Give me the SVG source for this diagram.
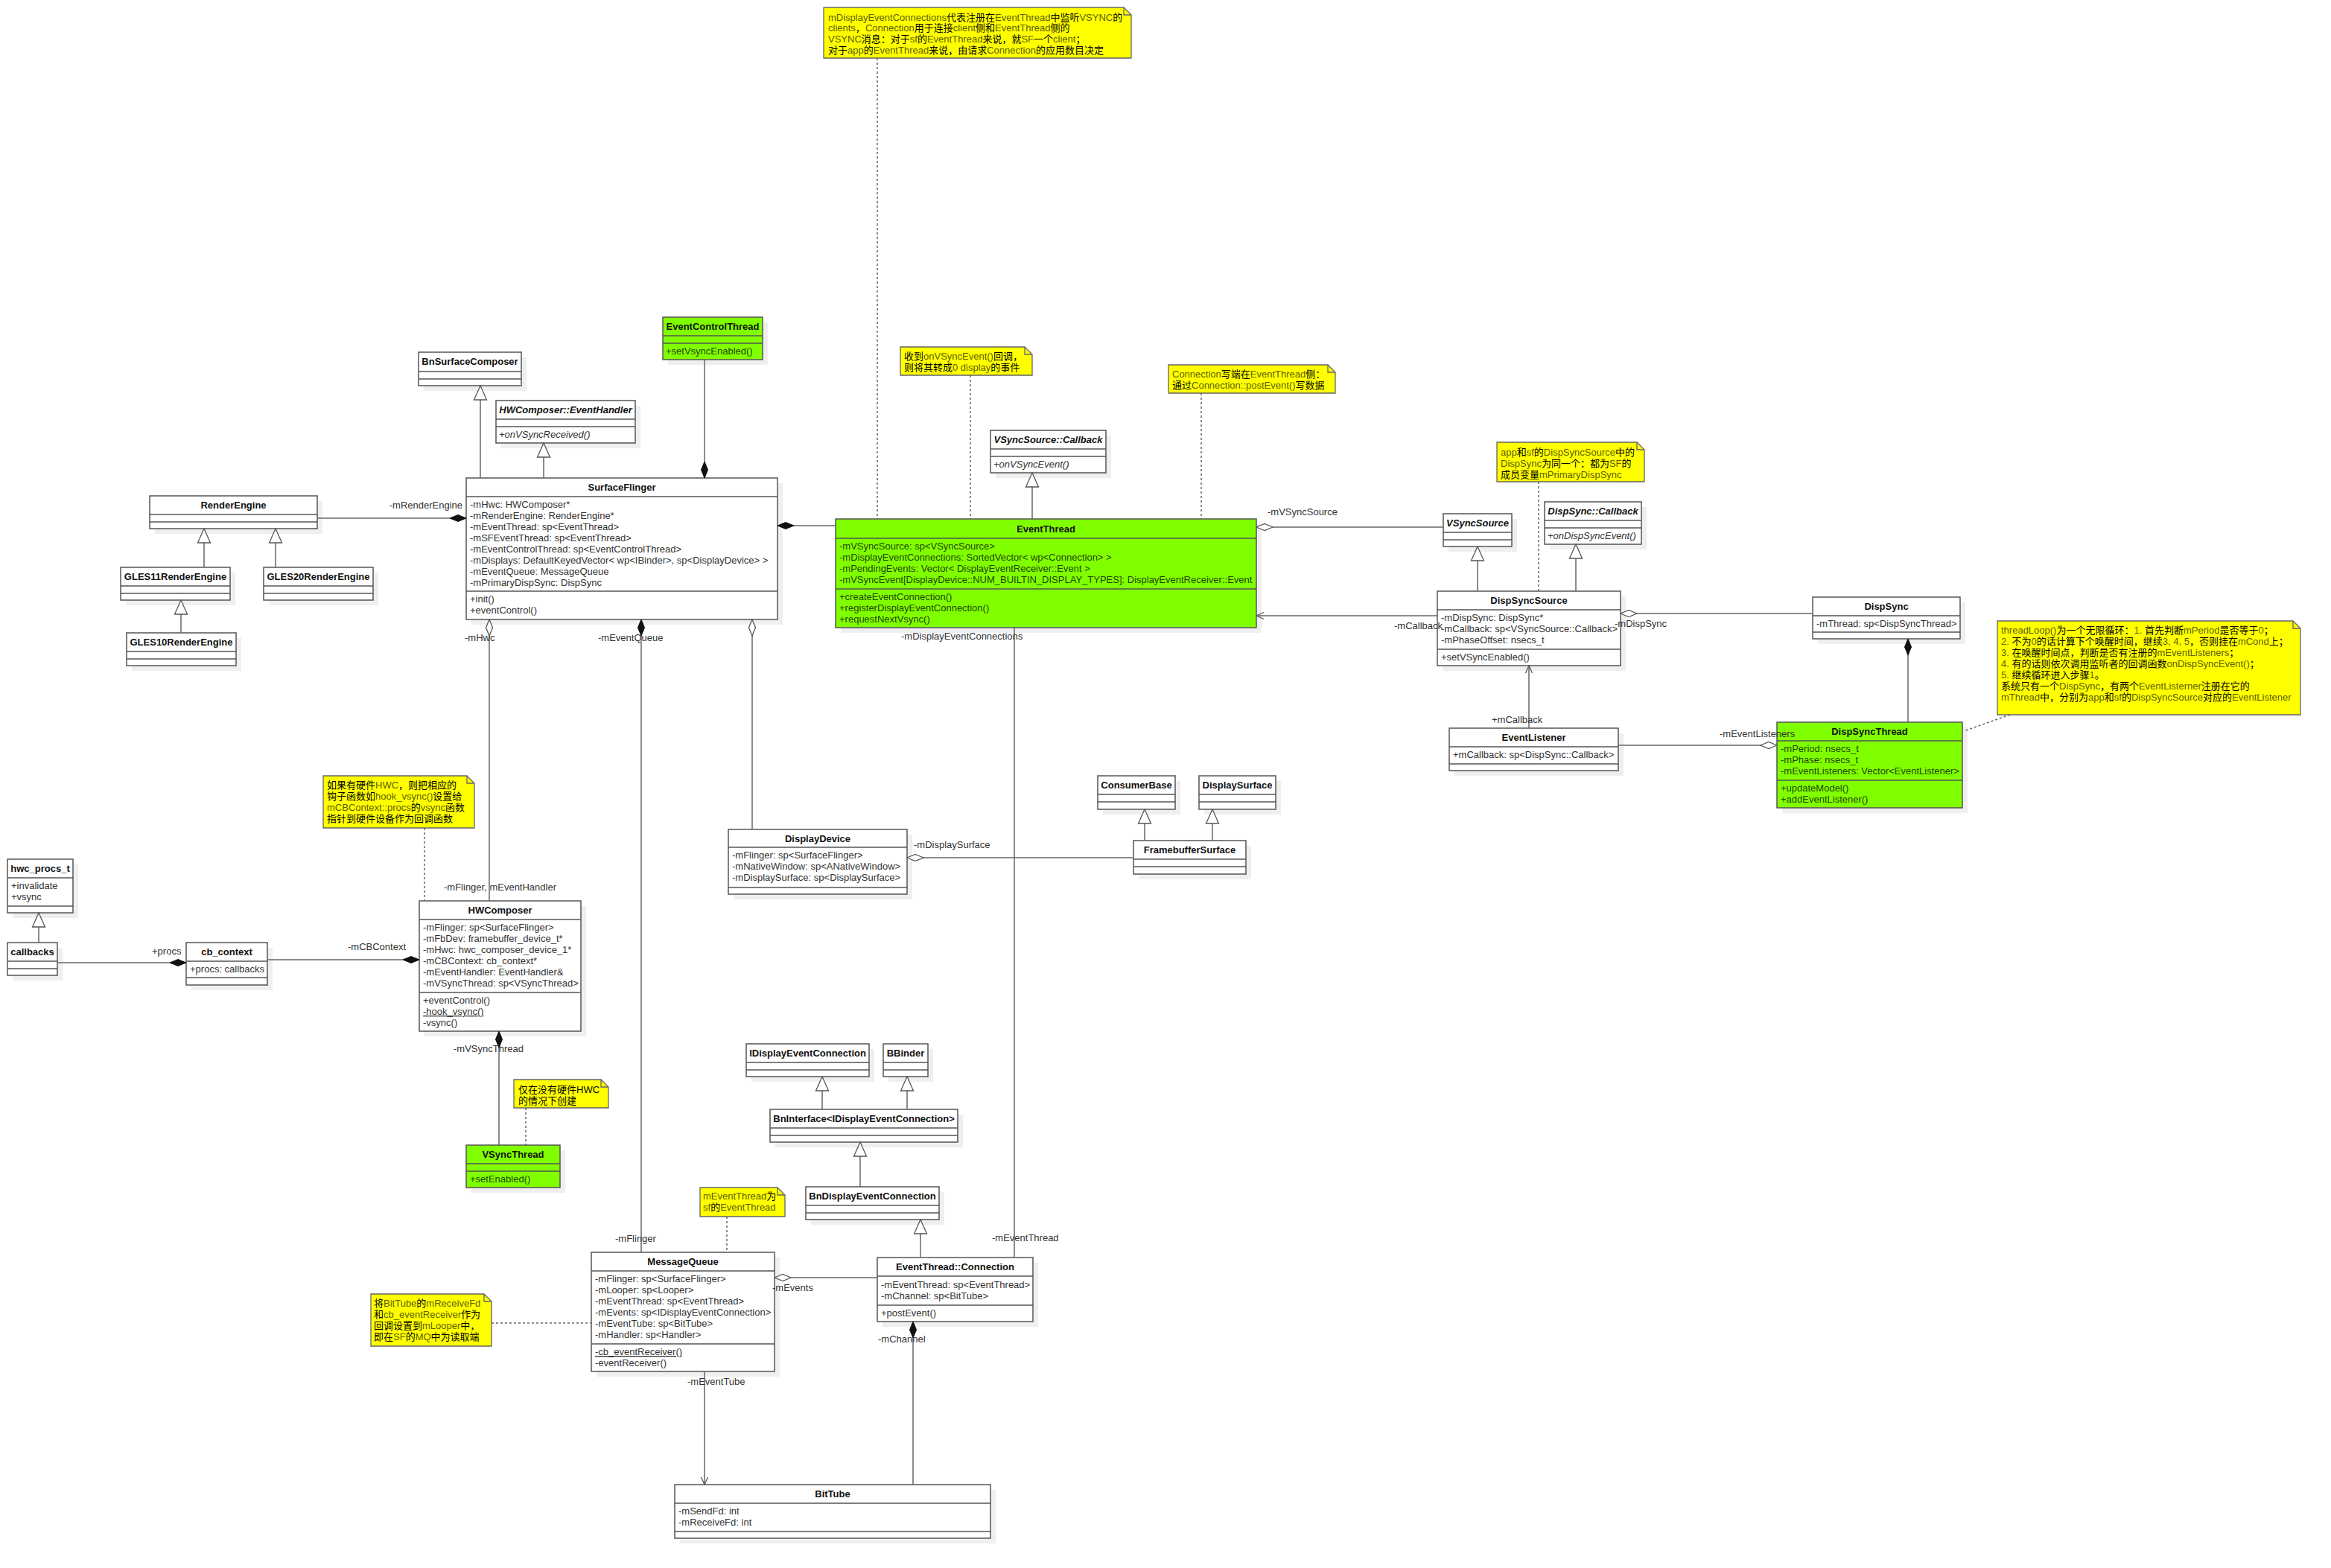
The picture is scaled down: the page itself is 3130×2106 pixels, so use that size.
<svg xmlns="http://www.w3.org/2000/svg" width="3130" height="2106" viewBox="0 0 3130 2106">
<style>
.bg{fill:#fff}
.sh{fill:#efefef}
.box{fill:#fff;stroke:#555;stroke-width:1.5}
.g .box{fill:#80ff00}
.sep{stroke:#555;stroke-width:1.5}
text{font-family:"Liberation Sans","Noto Sans CJK SC",sans-serif;font-size:13px}
.n{font-weight:bold;text-anchor:middle;fill:#111}
.i{font-style:italic}
.m{fill:#333}
.g .m{fill:#234600}
.u{text-decoration:underline}
.lbl{fill:#333}
.note{fill:#ff0;stroke:#666;stroke-width:1.3}
.fold{fill:none;stroke:#666;stroke-width:1.3}
.nt{fill:#000}
.o{fill:#5e5e00}
.ln{fill:none;stroke:#666;stroke-width:1.5}
.ds{fill:none;stroke:#666;stroke-width:1.5;stroke-dasharray:3 3}
</style>
<defs>
<marker id="fd" viewBox="-23 -6 24 12" refX="0" refY="0" markerWidth="24" markerHeight="12" markerUnits="userSpaceOnUse" orient="auto"><path d="M0,0 L-11,-4.5 L-22,0 L-11,4.5 Z" fill="#111" stroke="#111" stroke-width="1"/></marker>
<marker id="hd" viewBox="-23 -6 24 12" refX="0" refY="0" markerWidth="24" markerHeight="12" markerUnits="userSpaceOnUse" orient="auto"><path d="M0,0 L-11,-4.5 L-22,0 L-11,4.5 Z" fill="#fff" stroke="#555" stroke-width="1.3"/></marker>
<marker id="tri" viewBox="-21 -10 22 20" refX="0" refY="0" markerWidth="22" markerHeight="20" markerUnits="userSpaceOnUse" orient="auto"><path d="M0,0 L-19,-8.5 L-19,8.5 Z" fill="#fff" stroke="#555" stroke-width="1.3"/></marker>
<marker id="oa" viewBox="-12 -6 13 12" refX="0" refY="0" markerWidth="13" markerHeight="12" markerUnits="userSpaceOnUse" orient="auto"><path d="M-10,-4.5 L0,0 L-10,4.5" fill="none" stroke="#555" stroke-width="1.3"/></marker>
</defs>
<rect class="bg" x="0" y="0" width="3130" height="2106"/>

<g id="nodes">
<g id="EventControlThread" class="g"><rect class="sh" x="897" y="433" width="134" height="57"/><rect class="box" x="890" y="426" width="134" height="57"/><line class="sep" x1="890" y1="451" x2="1024" y2="451"/><line class="sep" x1="890" y1="461" x2="1024" y2="461"/><text class="n" x="957" y="443">EventControlThread</text><text class="m" x="894" y="476">+setVsyncEnabled()</text></g>

<g id="BnSurfaceComposer"><rect class="sh" x="569" y="480" width="138" height="45"/><rect class="box" x="562" y="473" width="138" height="45"/><line class="sep" x1="562" y1="499" x2="700" y2="499"/><line class="sep" x1="562" y1="509" x2="700" y2="509"/><text class="n" x="631" y="490">BnSurfaceComposer</text></g>

<g id="HWComposerEventHandler"><rect class="sh" x="673" y="545" width="187" height="57"/><rect class="box" x="666" y="538" width="187" height="57"/><line class="sep" x1="666" y1="563" x2="853" y2="563"/><line class="sep" x1="666" y1="573" x2="853" y2="573"/><text class="n i" x="759.5" y="555">HWComposer::EventHandler</text><text class="m i" x="670" y="588">+onVSyncReceived()</text></g>

<g id="SurfaceFlinger"><rect class="sh" x="633" y="649" width="418" height="190"/><rect class="box" x="626" y="642" width="418" height="190"/><line class="sep" x1="626" y1="667" x2="1044" y2="667"/><line class="sep" x1="626" y1="794" x2="1044" y2="794"/><text class="n" x="835" y="659">SurfaceFlinger</text>
<text class="m" x="631" y="682">-mHwc: HWComposer*</text>
<text class="m" x="631" y="697">-mRenderEngine: RenderEngine*</text>
<text class="m" x="631" y="712">-mEventThread: sp&lt;EventThread&gt;</text>
<text class="m" x="631" y="727">-mSFEventThread: sp&lt;EventThread&gt;</text>
<text class="m" x="631" y="742">-mEventControlThread: sp&lt;EventControlThread&gt;</text>
<text class="m" x="631" y="757">-mDisplays: DefaultKeyedVector&lt; wp&lt;IBinder&gt;, sp&lt;DisplayDevice&gt; &gt;</text>
<text class="m" x="631" y="772">-mEventQueue: MessageQueue</text>
<text class="m" x="631" y="787">-mPrimaryDispSync: DispSync</text>
<text class="m" x="631" y="809">+init()</text>
<text class="m" x="631" y="824">+eventControl()</text></g>

<g id="RenderEngine"><rect class="sh" x="208" y="673" width="225" height="44"/><rect class="box" x="201" y="666" width="225" height="44"/><line class="sep" x1="201" y1="691" x2="426" y2="691"/><line class="sep" x1="201" y1="701" x2="426" y2="701"/><text class="n" x="313.5" y="683">RenderEngine</text></g>

<g id="GLES11RenderEngine"><rect class="sh" x="169" y="769" width="147" height="44"/><rect class="box" x="162" y="762" width="147" height="44"/><line class="sep" x1="162" y1="787" x2="309" y2="787"/><line class="sep" x1="162" y1="797" x2="309" y2="797"/><text class="n" x="235.5" y="779">GLES11RenderEngine</text></g>

<g id="GLES20RenderEngine"><rect class="sh" x="361" y="769" width="147" height="44"/><rect class="box" x="354" y="762" width="147" height="44"/><line class="sep" x1="354" y1="787" x2="501" y2="787"/><line class="sep" x1="354" y1="797" x2="501" y2="797"/><text class="n" x="427.5" y="779">GLES20RenderEngine</text></g>

<g id="GLES10RenderEngine"><rect class="sh" x="177" y="857" width="147" height="44"/><rect class="box" x="170" y="850" width="147" height="44"/><line class="sep" x1="170" y1="875" x2="317" y2="875"/><line class="sep" x1="170" y1="885" x2="317" y2="885"/><text class="n" x="243.5" y="867">GLES10RenderEngine</text></g>

<g id="VSyncSourceCallback"><rect class="sh" x="1337" y="585" width="155" height="57"/><rect class="box" x="1330" y="578" width="155" height="57"/><line class="sep" x1="1330" y1="603" x2="1485" y2="603"/><line class="sep" x1="1330" y1="613" x2="1485" y2="613"/><text class="n i" x="1407.5" y="595">VSyncSource::Callback</text><text class="m i" x="1334" y="628">+onVSyncEvent()</text></g>

<g id="EventThread" class="g"><rect class="sh" x="1129" y="704" width="565" height="146"/><rect class="box" x="1122" y="697" width="565" height="146"/><line class="sep" x1="1122" y1="723" x2="1687" y2="723"/><line class="sep" x1="1122" y1="791" x2="1687" y2="791"/><text class="n" x="1404.5" y="715">EventThread</text>
<text class="m" x="1127" y="738">-mVSyncSource: sp&lt;VSyncSource&gt;</text>
<text class="m" x="1127" y="753">-mDisplayEventConnections: SortedVector&lt; wp&lt;Connection&gt; &gt;</text>
<text class="m" x="1127" y="768">-mPendingEvents: Vector&lt; DisplayEventReceiver::Event &gt;</text>
<text class="m" x="1127" y="783">-mVSyncEvent[DisplayDevice::NUM_BUILTIN_DISPLAY_TYPES]: DisplayEventReceiver::Event</text>
<text class="m" x="1127" y="806">+createEventConnection()</text>
<text class="m" x="1127" y="821">+registerDisplayEventConnection()</text>
<text class="m" x="1127" y="836">+requestNextVsync()</text></g>

<g id="VSyncSource"><rect class="sh" x="1945" y="697" width="92" height="44"/><rect class="box" x="1938" y="690" width="92" height="44"/><line class="sep" x1="1938" y1="715" x2="2030" y2="715"/><line class="sep" x1="1938" y1="725" x2="2030" y2="725"/><text class="n i" x="1984" y="707">VSyncSource</text></g>

<g id="DispSyncCallback"><rect class="sh" x="2081" y="681" width="130" height="57"/><rect class="box" x="2074" y="674" width="130" height="57"/><line class="sep" x1="2074" y1="699" x2="2204" y2="699"/><line class="sep" x1="2074" y1="709" x2="2204" y2="709"/><text class="n i" x="2139" y="691">DispSync::Callback</text><text class="m i" x="2078" y="724">+onDispSyncEvent()</text></g>

<g id="DispSyncSource"><rect class="sh" x="1937" y="801" width="246" height="100"/><rect class="box" x="1930" y="794" width="246" height="100"/><line class="sep" x1="1930" y1="819" x2="2176" y2="819"/><line class="sep" x1="1930" y1="872" x2="2176" y2="872"/><text class="n" x="2053" y="811">DispSyncSource</text>
<text class="m" x="1935" y="834">-mDispSync: DispSync*</text>
<text class="m" x="1935" y="849">-mCallback: sp&lt;VSyncSource::Callback&gt;</text>
<text class="m" x="1935" y="864">-mPhaseOffset: nsecs_t</text>
<text class="m" x="1935" y="887">+setVSyncEnabled()</text></g>

<g id="DispSync"><rect class="sh" x="2441" y="809" width="198" height="56"/><rect class="box" x="2434" y="802" width="198" height="56"/><line class="sep" x1="2434" y1="827" x2="2632" y2="827"/><line class="sep" x1="2434" y1="849" x2="2632" y2="849"/><text class="n" x="2533" y="819">DispSync</text><text class="m" x="2439" y="842">-mThread: sp&lt;DispSyncThread&gt;</text></g>

<g id="EventListener"><rect class="sh" x="1953" y="985" width="227" height="57"/><rect class="box" x="1946" y="978" width="227" height="57"/><line class="sep" x1="1946" y1="1003" x2="2173" y2="1003"/><line class="sep" x1="1946" y1="1026" x2="2173" y2="1026"/><text class="n" x="2059.5" y="995">EventListener</text><text class="m" x="1951" y="1018">+mCallback: sp&lt;DispSync::Callback&gt;</text></g>

<g id="DispSyncThread" class="g"><rect class="sh" x="2393" y="977" width="249" height="115"/><rect class="box" x="2386" y="970" width="249" height="115"/><line class="sep" x1="2386" y1="995" x2="2635" y2="995"/><line class="sep" x1="2386" y1="1048" x2="2635" y2="1048"/><text class="n" x="2510.5" y="987">DispSyncThread</text>
<text class="m" x="2391" y="1010">-mPeriod: nsecs_t</text>
<text class="m" x="2391" y="1025">-mPhase: nsecs_t</text>
<text class="m" x="2391" y="1040">-mEventListeners: Vector&lt;EventListener&gt;</text>
<text class="m" x="2391" y="1063">+updateModel()</text>
<text class="m" x="2391" y="1078">+addEventListener()</text></g>

<g id="hwc_procs_t"><rect class="sh" x="17" y="1161" width="88" height="72"/><rect class="box" x="10" y="1154" width="88" height="72"/><line class="sep" x1="10" y1="1179" x2="98" y2="1179"/><line class="sep" x1="10" y1="1217" x2="98" y2="1217"/><text class="n" x="54" y="1171">hwc_procs_t</text><text class="m" x="15" y="1194">+invalidate</text><text class="m" x="15" y="1209">+vsync</text></g>

<g id="callbacks"><rect class="sh" x="17" y="1273" width="67" height="44"/><rect class="box" x="10" y="1266" width="67" height="44"/><line class="sep" x1="10" y1="1291" x2="77" y2="1291"/><line class="sep" x1="10" y1="1301" x2="77" y2="1301"/><text class="n" x="43.5" y="1283">callbacks</text></g>

<g id="cb_context"><rect class="sh" x="257" y="1273" width="109" height="57"/><rect class="box" x="250" y="1266" width="109" height="57"/><line class="sep" x1="250" y1="1291" x2="359" y2="1291"/><line class="sep" x1="250" y1="1313" x2="359" y2="1313"/><text class="n" x="304.5" y="1283">cb_context</text><text class="m" x="255" y="1306">+procs: callbacks</text></g>

<g id="HWComposer"><rect class="sh" x="570" y="1217" width="217" height="175"/><rect class="box" x="563" y="1210" width="217" height="175"/><line class="sep" x1="563" y1="1235" x2="780" y2="1235"/><line class="sep" x1="563" y1="1333" x2="780" y2="1333"/><text class="n" x="671.5" y="1227">HWComposer</text>
<text class="m" x="568" y="1250">-mFlinger: sp&lt;SurfaceFlinger&gt;</text>
<text class="m" x="568" y="1265">-mFbDev: framebuffer_device_t*</text>
<text class="m" x="568" y="1280">-mHwc: hwc_composer_device_1*</text>
<text class="m" x="568" y="1295">-mCBContext: cb_context*</text>
<text class="m" x="568" y="1310">-mEventHandler: EventHandler&amp;</text>
<text class="m" x="568" y="1325">-mVSyncThread: sp&lt;VSyncThread&gt;</text>
<text class="m" x="568" y="1348">+eventControl()</text>
<text class="m u" x="568" y="1363">-hook_vsync()</text>
<text class="m" x="568" y="1378">-vsync()</text></g>

<g id="VSyncThread" class="g"><rect class="sh" x="633" y="1545" width="126" height="57"/><rect class="box" x="626" y="1538" width="126" height="57"/><line class="sep" x1="626" y1="1563" x2="752" y2="1563"/><line class="sep" x1="626" y1="1573" x2="752" y2="1573"/><text class="n" x="689" y="1555">VSyncThread</text><text class="m" x="631" y="1588">+setEnabled()</text></g>

<g id="DisplayDevice"><rect class="sh" x="985" y="1121" width="240" height="87"/><rect class="box" x="978" y="1114" width="240" height="87"/><line class="sep" x1="978" y1="1138" x2="1218" y2="1138"/><line class="sep" x1="978" y1="1192" x2="1218" y2="1192"/><text class="n" x="1098" y="1131">DisplayDevice</text>
<text class="m" x="983" y="1153">-mFlinger: sp&lt;SurfaceFlinger&gt;</text>
<text class="m" x="983" y="1168">-mNativeWindow: sp&lt;ANativeWindow&gt;</text>
<text class="m" x="983" y="1183">-mDisplaySurface: sp&lt;DisplaySurface&gt;</text></g>

<g id="ConsumerBase"><rect class="sh" x="1481" y="1049" width="104" height="45"/><rect class="box" x="1474" y="1042" width="104" height="45"/><line class="sep" x1="1474" y1="1067" x2="1578" y2="1067"/><line class="sep" x1="1474" y1="1077" x2="1578" y2="1077"/><text class="n" x="1526" y="1059">ConsumerBase</text></g>

<g id="DisplaySurface"><rect class="sh" x="1617" y="1049" width="103" height="45"/><rect class="box" x="1610" y="1042" width="103" height="45"/><line class="sep" x1="1610" y1="1067" x2="1713" y2="1067"/><line class="sep" x1="1610" y1="1077" x2="1713" y2="1077"/><text class="n" x="1661.5" y="1059">DisplaySurface</text></g>

<g id="FramebufferSurface"><rect class="sh" x="1529" y="1136" width="151" height="45"/><rect class="box" x="1522" y="1129" width="151" height="45"/><line class="sep" x1="1522" y1="1154" x2="1673" y2="1154"/><line class="sep" x1="1522" y1="1164" x2="1673" y2="1164"/><text class="n" x="1597.5" y="1146">FramebufferSurface</text></g>

<g id="IDisplayEventConnection"><rect class="sh" x="1009" y="1409" width="165" height="44"/><rect class="box" x="1002" y="1402" width="165" height="44"/><line class="sep" x1="1002" y1="1427" x2="1167" y2="1427"/><line class="sep" x1="1002" y1="1437" x2="1167" y2="1437"/><text class="n" x="1084.5" y="1419">IDisplayEventConnection</text></g>

<g id="BBinder"><rect class="sh" x="1193" y="1409" width="60" height="44"/><rect class="box" x="1186" y="1402" width="60" height="44"/><line class="sep" x1="1186" y1="1427" x2="1246" y2="1427"/><line class="sep" x1="1186" y1="1437" x2="1246" y2="1437"/><text class="n" x="1216" y="1419">BBinder</text></g>

<g id="BnInterface"><rect class="sh" x="1041" y="1497" width="252" height="44"/><rect class="box" x="1034" y="1490" width="252" height="44"/><line class="sep" x1="1034" y1="1515" x2="1286" y2="1515"/><line class="sep" x1="1034" y1="1525" x2="1286" y2="1525"/><text class="n" x="1160" y="1507">BnInterface&lt;IDisplayEventConnection&gt;</text></g>

<g id="BnDisplayEventConnection"><rect class="sh" x="1089" y="1601" width="179" height="44"/><rect class="box" x="1082" y="1594" width="179" height="44"/><line class="sep" x1="1082" y1="1619" x2="1261" y2="1619"/><line class="sep" x1="1082" y1="1629" x2="1261" y2="1629"/><text class="n" x="1171.5" y="1611">BnDisplayEventConnection</text></g>

<g id="EventThreadConnection"><rect class="sh" x="1185" y="1696" width="209" height="86"/><rect class="box" x="1178" y="1689" width="209" height="86"/><line class="sep" x1="1178" y1="1714" x2="1387" y2="1714"/><line class="sep" x1="1178" y1="1753" x2="1387" y2="1753"/><text class="n" x="1282.5" y="1706">EventThread::Connection</text>
<text class="m" x="1183" y="1730">-mEventThread: sp&lt;EventThread&gt;</text>
<text class="m" x="1183" y="1745">-mChannel: sp&lt;BitTube&gt;</text>
<text class="m" x="1183" y="1768">+postEvent()</text></g>

<g id="MessageQueue"><rect class="sh" x="801" y="1689" width="246" height="160"/><rect class="box" x="794" y="1682" width="246" height="160"/><line class="sep" x1="794" y1="1707" x2="1040" y2="1707"/><line class="sep" x1="794" y1="1805" x2="1040" y2="1805"/><text class="n" x="917" y="1699">MessageQueue</text>
<text class="m" x="799" y="1722">-mFlinger: sp&lt;SurfaceFlinger&gt;</text>
<text class="m" x="799" y="1737">-mLooper: sp&lt;Looper&gt;</text>
<text class="m" x="799" y="1752">-mEventThread: sp&lt;EventThread&gt;</text>
<text class="m" x="799" y="1767">-mEvents: sp&lt;IDisplayEventConnection&gt;</text>
<text class="m" x="799" y="1782">-mEventTube: sp&lt;BitTube&gt;</text>
<text class="m" x="799" y="1797">-mHandler: sp&lt;Handler&gt;</text>
<text class="m u" x="799" y="1820">-cb_eventReceiver()</text>
<text class="m" x="799" y="1835">-eventReceiver()</text></g>

<g id="BitTube"><rect class="sh" x="913" y="2001" width="424" height="72"/><rect class="box" x="906" y="1994" width="424" height="72"/><line class="sep" x1="906" y1="2019" x2="1330" y2="2019"/><line class="sep" x1="906" y1="2057" x2="1330" y2="2057"/><text class="n" x="1118" y="2011">BitTube</text>
<text class="m" x="911" y="2034">-mSendFd: int</text>
<text class="m" x="911" y="2049">-mReceiveFd: int</text></g>
</g>

<g id="notes">
<g id="note1"><path class="note" d="M1106,10 H1509 L1519,20 V78 H1106 Z"/><path class="fold" d="M1509,10 V20 H1519"/>
<text class="nt" x="1112" y="28"><tspan class="o">mDisplayEventConnections</tspan>代表注册在<tspan class="o">EventThread</tspan>中监听<tspan class="o">VSYNC</tspan>的</text>
<text class="nt" x="1112" y="42"><tspan class="o">clients</tspan>，<tspan class="o">Connection</tspan>用于连接<tspan class="o">client</tspan>侧和<tspan class="o">EventThread</tspan>侧的</text>
<text class="nt" x="1112" y="57"><tspan class="o">VSYNC</tspan>消息：对于<tspan class="o">sf</tspan>的<tspan class="o">EventThread</tspan>来说，就<tspan class="o">SF</tspan>一个<tspan class="o">client</tspan>；</text>
<text class="nt" x="1112" y="72">对于<tspan class="o">app</tspan>的<tspan class="o">EventThread</tspan>来说，由请求<tspan class="o">Connection</tspan>的应用数目决定</text></g>

<g id="note2"><path class="note" d="M1209,466 H1376 L1386,476 V504 H1209 Z"/><path class="fold" d="M1376,466 V476 H1386"/>
<text class="nt" x="1214" y="483">收到<tspan class="o">onVSyncEvent()</tspan>回调，</text>
<text class="nt" x="1214" y="498">则将其转成<tspan class="o">0 display</tspan>的事件</text></g>

<g id="note3"><path class="note" d="M1569,490 H1783 L1793,500 V528 H1569 Z"/><path class="fold" d="M1783,490 V500 H1793"/>
<text class="nt" x="1574" y="507"><tspan class="o">Connection</tspan>写端在<tspan class="o">EventThread</tspan>侧：</text>
<text class="nt" x="1574" y="522">通过<tspan class="o">Connection::postEvent()</tspan>写数据</text></g>

<g id="note4"><path class="note" d="M2010,594 H2198 L2208,604 V647 H2010 Z"/><path class="fold" d="M2198,594 V604 H2208"/>
<text class="nt" x="2015" y="612"><tspan class="o">app</tspan>和<tspan class="o">sf</tspan>的<tspan class="o">DispSyncSource</tspan>中的</text>
<text class="nt" x="2015" y="627"><tspan class="o">DispSync</tspan>为同一个：都为<tspan class="o">SF</tspan>的</text>
<text class="nt" x="2015" y="642">成员变量<tspan class="o">mPrimaryDispSync</tspan></text></g>

<g id="note5"><path class="note" d="M2682,834 H3079 L3089,844 V960 H2682 Z"/><path class="fold" d="M3079,834 V844 H3089"/>
<text class="nt" x="2687" y="851"><tspan class="o">threadLoop()</tspan>为一个无限循环：<tspan class="o">1. </tspan>首先判断<tspan class="o">mPeriod</tspan>是否等于<tspan class="o">0</tspan>；</text>
<text class="nt" x="2687" y="866"><tspan class="o">2. </tspan>不为<tspan class="o">0</tspan>的话计算下个唤醒时间，继续<tspan class="o">3, 4, 5</tspan>，否则挂在<tspan class="o">mCond</tspan>上；</text>
<text class="nt" x="2687" y="881"><tspan class="o">3. </tspan>在唤醒时间点，判断是否有注册的<tspan class="o">mEventListeners</tspan>；</text>
<text class="nt" x="2687" y="896"><tspan class="o">4. </tspan>有的话则依次调用监听者的回调函数<tspan class="o">onDispSyncEvent()</tspan>；</text>
<text class="nt" x="2687" y="911"><tspan class="o">5. </tspan>继续循环进入步骤<tspan class="o">1</tspan>。</text>
<text class="nt" x="2687" y="926">系统只有一个<tspan class="o">DispSync</tspan>，有两个<tspan class="o">EventListerner</tspan>注册在它的</text>
<text class="nt" x="2687" y="941"><tspan class="o">mThread</tspan>中，分别为<tspan class="o">app</tspan>和<tspan class="o">sf</tspan>的<tspan class="o">DispSyncSource</tspan>对应的<tspan class="o">EventListener</tspan></text></g>

<g id="note6"><path class="note" d="M434,1042 H627 L637,1052 V1112 H434 Z"/><path class="fold" d="M627,1042 V1052 H637"/>
<text class="nt" x="439" y="1059">如果有硬件<tspan class="o">HWC</tspan>，则把相应的</text>
<text class="nt" x="439" y="1074">钩子函数如<tspan class="o">hook_vsync()</tspan>设置给</text>
<text class="nt" x="439" y="1089"><tspan class="o">mCBContext::procs</tspan>的<tspan class="o">vsync</tspan>函数</text>
<text class="nt" x="439" y="1104">指针到硬件设备作为回调函数</text></g>

<g id="note7"><path class="note" d="M690,1450 H807 L817,1460 V1488 H690 Z"/><path class="fold" d="M807,1450 V1460 H817"/>
<text class="nt" x="696" y="1468">仅在没有硬件HWC</text>
<text class="nt" x="696" y="1483">的情况下创建</text></g>

<g id="note8"><path class="note" d="M940,1595 H1044 L1054,1605 V1634 H940 Z"/><path class="fold" d="M1044,1595 V1605 H1054"/>
<text class="nt" x="944" y="1611"><tspan class="o">mEventThread</tspan>为</text>
<text class="nt" x="944" y="1626"><tspan class="o">sf</tspan>的<tspan class="o">EventThread</tspan></text></g>

<g id="note9"><path class="note" d="M498,1738 H650 L660,1748 V1808 H498 Z"/><path class="fold" d="M650,1738 V1748 H660"/>
<text class="nt" x="502" y="1755">将<tspan class="o">BitTube</tspan>的<tspan class="o">mReceiveFd</tspan></text>
<text class="nt" x="502" y="1770">和<tspan class="o">cb_eventReceiver</tspan>作为</text>
<text class="nt" x="502" y="1785">回调设置到<tspan class="o">mLooper</tspan>中，</text>
<text class="nt" x="502" y="1800">即在<tspan class="o">SF</tspan>的<tspan class="o">MQ</tspan>中为读取端</text></g>
</g>

<g id="connectors">
<path class="ds" d="M1178,78 V697"/>
<path class="ds" d="M1303,504 V697"/>
<path class="ds" d="M1613,528 V697"/>
<path class="ds" d="M2066,647 V794"/>
<path class="ds" d="M2699,960 L2637,982"/>
<path class="ds" d="M570,1112 V1210"/>
<path class="ds" d="M706,1488 V1538"/>
<path class="ds" d="M976,1634 V1682"/>
<path class="ds" d="M660,1777 H794"/>

<path class="ln" d="M645,642 V518" marker-end="url(#tri)"/>
<path class="ln" d="M730,642 V595" marker-end="url(#tri)"/>
<path class="ln" d="M274,762 V710" marker-end="url(#tri)"/>
<path class="ln" d="M370,762 V710" marker-end="url(#tri)"/>
<path class="ln" d="M243,850 V806" marker-end="url(#tri)"/>
<path class="ln" d="M1386,697 V635" marker-end="url(#tri)"/>
<path class="ln" d="M1984,794 V734" marker-end="url(#tri)"/>
<path class="ln" d="M2116,794 V731" marker-end="url(#tri)"/>
<path class="ln" d="M52,1266 V1226" marker-end="url(#tri)"/>
<path class="ln" d="M1537,1129 V1087" marker-end="url(#tri)"/>
<path class="ln" d="M1628,1129 V1087" marker-end="url(#tri)"/>
<path class="ln" d="M1104,1490 V1446" marker-end="url(#tri)"/>
<path class="ln" d="M1218,1490 V1446" marker-end="url(#tri)"/>
<path class="ln" d="M1155,1594 V1534" marker-end="url(#tri)"/>
<path class="ln" d="M1236,1689 V1638" marker-end="url(#tri)"/>

<path class="ln" d="M946,483 V642" marker-end="url(#fd)"/>
<path class="ln" d="M426,696 H626" marker-end="url(#fd)"/>
<path class="ln" d="M1122,706 H1044" marker-end="url(#fd)"/>
<path class="ln" d="M657,1210 V832" marker-end="url(#hd)"/>
<path class="ln" d="M861,1682 V832" marker-end="url(#fd)"/>
<path class="ln" d="M1010,1114 V832" marker-end="url(#hd)"/>
<path class="ln" d="M1938,708 H1687" marker-end="url(#hd)"/>
<path class="ln" d="M1930,827 H1687" marker-end="url(#oa)"/>
<path class="ln" d="M2434,824 H2176" marker-end="url(#hd)"/>
<path class="ln" d="M2053,978 V894" marker-end="url(#oa)"/>
<path class="ln" d="M2173,1001 H2386" marker-end="url(#hd)"/>
<path class="ln" d="M2562,970 V858" marker-end="url(#fd)"/>
<path class="ln" d="M77,1293 H250" marker-end="url(#fd)"/>
<path class="ln" d="M359,1289 H563" marker-end="url(#fd)"/>
<path class="ln" d="M670,1538 V1385" marker-end="url(#fd)"/>
<path class="ln" d="M1522,1152 H1218" marker-end="url(#hd)"/>
<path class="ln" d="M1362,843 V1689"/>
<path class="ln" d="M1178,1716 H1040" marker-end="url(#hd)"/>
<path class="ln" d="M1226,1994 V1775" marker-end="url(#fd)"/>
<path class="ln" d="M946,1842 V1994" marker-end="url(#oa)"/>

<text class="lbl" x="621" y="683" text-anchor="end">-mRenderEngine</text>
<text class="lbl" x="624" y="861">-mHwc</text>
<text class="lbl" x="803" y="861">-mEventQueue</text>
<text class="lbl" x="596" y="1196">-mFlinger, mEventHandler</text>
<text class="lbl" x="826" y="1668">-mFlinger</text>
<text class="lbl" x="1702" y="692">-mVSyncSource</text>
<text class="lbl" x="1937" y="845" text-anchor="end">-mCallback</text>
<text class="lbl" x="2168" y="842">-mDispSync</text>
<text class="lbl" x="2003" y="971">+mCallback</text>
<text class="lbl" x="2309" y="990">-mEventListeners</text>
<text class="lbl" x="204" y="1282">+procs</text>
<text class="lbl" x="467" y="1276">-mCBContext</text>
<text class="lbl" x="609" y="1413">-mVSyncThread</text>
<text class="lbl" x="1227" y="1139">-mDisplaySurface</text>
<text class="lbl" x="1210" y="859">-mDisplayEventConnections</text>
<text class="lbl" x="1332" y="1667">-mEventThread</text>
<text class="lbl" x="1037" y="1734">-mEvents</text>
<text class="lbl" x="1179" y="1803">-mChannel</text>
<text class="lbl" x="923" y="1860">-mEventTube</text>
</g>
</svg>
